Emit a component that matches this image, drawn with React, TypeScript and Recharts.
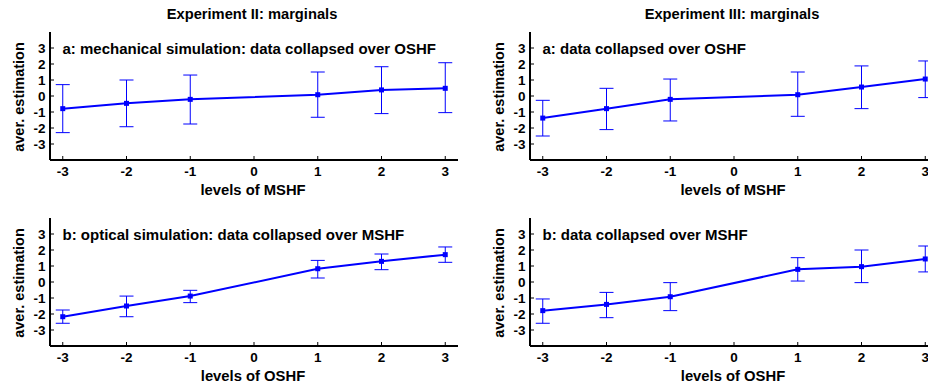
import React from 'react';
import { LineChart, Line, XAxis, YAxis, ErrorBar } from 'recharts';

const FONT = '"Liberation Sans", Arial, Helvetica, sans-serif';
const BLUE = '#0000ff';

// levels of the manipulated factor (no data at 0)
const levels = [-3, -2, -1, 1, 2, 3];
const xTicks = [-3, -2, -1, 0, 1, 2, 3];
const yTicks = [-3, -2, -1, 0, 1, 2, 3];

// Experiment II, a: mechanical simulation (over OSHF)
const exp2aMean = [-0.79, -0.46, -0.21, 0.08, 0.38, 0.48];
const exp2aUpper = [0.71, 1.0, 1.31, 1.5, 1.83, 2.08];
const exp2aLower = [-2.29, -1.92, -1.75, -1.33, -1.1, -1.04];

// Experiment III, a: collapsed over OSHF
const exp3aMean = [-1.38, -0.79, -0.21, 0.08, 0.56, 1.06];
const exp3aUpper = [-0.27, 0.48, 1.06, 1.5, 1.88, 2.19];
const exp3aLower = [-2.5, -2.1, -1.56, -1.27, -0.79, -0.1];

// Experiment II, b: optical simulation (over MSHF)
const exp2bMean = [-2.17, -1.5, -0.88, 0.83, 1.29, 1.71];
const exp2bUpper = [-1.75, -0.88, -0.52, 1.35, 1.75, 2.19];
const exp2bLower = [-2.58, -2.17, -1.29, 0.25, 0.77, 1.23];

// Experiment III, b: collapsed over MSHF
const exp3bMean = [-1.79, -1.4, -0.92, 0.79, 0.96, 1.44];
const exp3bUpper = [-1.06, -0.65, -0.04, 1.52, 2.0, 2.25];
const exp3bLower = [-2.58, -2.23, -1.79, 0.06, -0.04, 0.63];

function buildRows(mean: number[], upper: number[], lower: number[]) {
  return levels.map((lv, i) => ({
    level: lv,
    mean: mean[i],
    err: [mean[i] - lower[i], upper[i] - mean[i]],
  }));
}

const SquareDot = (props: any) => {
  const { cx, cy } = props;
  if (cx == null || cy == null) return null;
  return <rect x={cx - 2.5} y={cy - 2.5} width={5} height={5} fill={BLUE} />;
};

const tickStyle = { fill: '#000', fontSize: 13.5, fontWeight: 'bold', fontFamily: FONT };

function Panel({ left, top, rows }: { left: number; top: number; rows: any[] }) {
  return (
    <div style={{ position: 'absolute', left, top }}>
      <LineChart width={470} height={200} data={rows} margin={{ top: 32, right: 12, left: 0, bottom: 0 }}>
        <XAxis
          dataKey="level"
          type="number"
          domain={[-3.2, 3.2]}
          ticks={xTicks}
          interval={0}
          allowDataOverflow
          height={40}
          tickSize={-4}
          tickMargin={10.5}
          tick={tickStyle}
          axisLine={{ stroke: '#000', strokeWidth: 2 }}
          tickLine={{ stroke: '#000', strokeWidth: 1 }}
        />
        <YAxis
          type="number"
          domain={[-4, 4]}
          ticks={yTicks}
          interval={0}
          allowDataOverflow
          width={50}
          tickSize={-4}
          tickMargin={8.5}
          tick={tickStyle}
          axisLine={{ stroke: '#000', strokeWidth: 2 }}
          tickLine={{ stroke: '#000', strokeWidth: 1 }}
        />
        <Line
          type="linear"
          dataKey="mean"
          stroke={BLUE}
          strokeWidth={2}
          dot={<SquareDot />}
          activeDot={false}
          isAnimationActive={false}
        >
          <ErrorBar dataKey="err" direction="y" width={7} stroke={BLUE} strokeWidth={1} isAnimationActive={false} />
        </Line>
      </LineChart>
    </div>
  );
}

const panels = [
  { left: 0, top: 0, rows: buildRows(exp2aMean, exp2aUpper, exp2aLower), note: 'a: mechanical simulation: data collapsed over OSHF', xLabel: 'levels of MSHF' },
  { left: 480, top: 0, rows: buildRows(exp3aMean, exp3aUpper, exp3aLower), note: 'a: data collapsed over OSHF', xLabel: 'levels of MSHF' },
  { left: 0, top: 186, rows: buildRows(exp2bMean, exp2bUpper, exp2bLower), note: 'b: optical simulation: data collapsed over MSHF', xLabel: 'levels of OSHF' },
  { left: 480, top: 186, rows: buildRows(exp3bMean, exp3bUpper, exp3bLower), note: 'b: data collapsed over MSHF', xLabel: 'levels of OSHF' },
];

const titles = [
  { x: 252, text: 'Experiment II: marginals' },
  { x: 732, text: 'Experiment III: marginals' },
];

export default function App() {
  return (
    <div
      style={{
        position: 'absolute',
        left: 0,
        top: 0,
        width: 928,
        height: 387,
        overflow: 'hidden',
        background: '#fff',
        fontFamily: FONT,
      }}
    >
      {panels.map((p, i) => (
        <Panel key={i} left={p.left} top={p.top} rows={p.rows} />
      ))}
      <svg width={928} height={387} style={{ position: 'absolute', left: 0, top: 0, pointerEvents: 'none' }}>
        <g fontFamily={FONT} fontWeight="bold" fill="#000">
          {titles.map((t) => (
            <text key={t.text} x={t.x} y={19} textAnchor="middle" fontSize={14.7}>
              {t.text}
            </text>
          ))}
          {panels.map((p, i) => (
            <g key={i}>
              <text x={p.left + 62.5} y={p.top + 53.5} fontSize={15}>
                {p.note}
              </text>
              <text x={p.left + 253} y={p.top + 195} textAnchor="middle" fontSize={14.8}>
                {p.xLabel}
              </text>
              <text
                transform={`translate(${p.left + 23.5},${p.top + 97}) rotate(-90)`}
                textAnchor="middle"
                fontSize={14.5}
              >
                aver. estimation
              </text>
            </g>
          ))}
        </g>
      </svg>
    </div>
  );
}
